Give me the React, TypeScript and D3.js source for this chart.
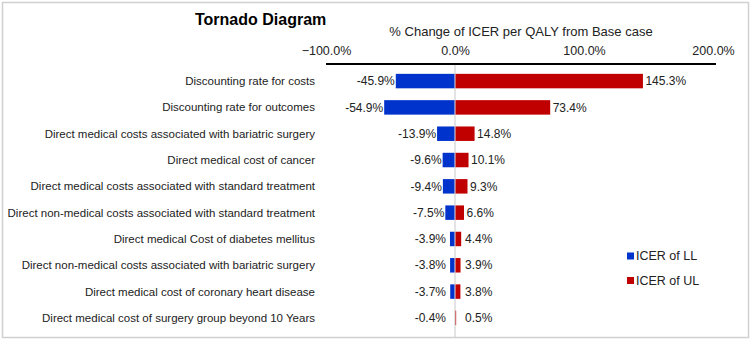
import React, { useEffect, useRef } from 'react';
import * as d3 from 'd3';

const categories = [
  'Discounting rate for costs',
  'Discounting rate for outcomes',
  'Direct medical costs associated with bariatric surgery',
  'Direct medical cost of cancer',
  'Direct medical costs associated with standard treatment',
  'Direct non-medical costs associated with standard treatment',
  'Direct medical Cost of diabetes mellitus',
  'Direct non-medical costs associated with bariatric surgery',
  'Direct medical cost of coronary heart disease',
  'Direct medical cost of surgery group beyond 10 Years',
];
const lowValues = [-45.9, -54.9, -13.9, -9.6, -9.4, -7.5, -3.9, -3.8, -3.7, -0.4];
const highValues = [145.3, 73.4, 14.8, 10.1, 9.3, 6.6, 4.4, 3.9, 3.8, 0.5];
const xTicks = [-100, 0, 100, 200];
const seriesNames = ['ICER of LL', 'ICER of UL'];
const seriesColors = ['#0033CC', '#C00000'];

const FONT = '"Liberation Sans", Arial, sans-serif';

function TornadoChart() {
  const ref = useRef<SVGSVGElement>(null);

  useEffect(() => {
    if (!ref.current) return;
    const svg = d3.select(ref.current);
    svg.selectAll('*').remove();

    // frame
    svg.append('rect')
      .attr('x', 2.5).attr('y', 2.5)
      .attr('width', 746).attr('height', 335)
      .attr('fill', '#fff')
      .attr('stroke', '#d0d0d0')
      .attr('stroke-width', 1.5);

    const x = d3.scaleLinear().domain([-100, 200]).range([326, 713]);
    const y = d3.scaleBand().domain(categories).range([62, 337]).padding(0.45);

    // title
    svg.append('text')
      .attr('x', 195).attr('y', 25)
      .attr('font-family', FONT)
      .attr('font-weight', 'bold')
      .attr('font-size', 16)
      .attr('fill', '#000')
      .text('Tornado Diagram');

    svg.append('text')
      .attr('x', 521).attr('y', 36)
      .attr('text-anchor', 'middle')
      .attr('font-family', FONT)
      .attr('font-size', 13)
      .attr('fill', '#222')
      .text('% Change of ICER per QALY from Base case');

    // zero line
    svg.append('line')
      .attr('x1', x(0)).attr('x2', x(0))
      .attr('y1', 64).attr('y2', 337)
      .attr('stroke', '#c8c8c8')
      .attr('stroke-width', 1);

    // top axis
    const axis = svg.append('g')
      .attr('transform', 'translate(0,64)')
      .call(d3.axisTop(x).tickValues(xTicks).tickSize(0).tickPadding(9)
        .tickFormat((d) => `${d3.format('.1f')(d as number)}%`));
    axis.select('.domain')
      .attr('d', `M${x(-100)},0H${x(200) + 3}`)
      .attr('stroke', '#000')
      .attr('stroke-width', 2);
    axis.selectAll('text')
      .attr('font-family', FONT)
      .attr('font-size', 12.5)
      .attr('fill', '#222');

    // category labels
    svg.append('g').selectAll('text')
      .data(categories)
      .join('text')
      .attr('x', 315)
      .attr('y', (d) => (y(d) as number) + y.bandwidth() / 2)
      .attr('dy', '0.35em')
      .attr('text-anchor', 'end')
      .attr('font-family', FONT)
      .attr('font-size', 11.5)
      .attr('fill', '#222')
      .text((d) => d);

    const rows = categories.map((c, i) => ({ c, lo: lowValues[i], hi: highValues[i] }));

    // low bars
    svg.append('g').selectAll('rect')
      .data(rows)
      .join('rect')
      .attr('x', (d) => x(d.lo))
      .attr('y', (d) => y(d.c) as number)
      .attr('width', (d) => x(0) - x(d.lo) - 0.5)
      .attr('height', y.bandwidth())
      .attr('fill', seriesColors[0]);

    // high bars
    svg.append('g').selectAll('rect')
      .data(rows)
      .join('rect')
      .attr('x', x(0) + 0.5)
      .attr('y', (d) => y(d.c) as number)
      .attr('width', (d) => x(d.hi) - x(0))
      .attr('height', y.bandwidth())
      .attr('fill', seriesColors[1]);

    // value labels
    svg.append('g').selectAll('text')
      .data(rows)
      .join('text')
      .attr('x', (d) => Math.min(x(d.lo) - 1, x(0) - 9))
      .attr('y', (d) => (y(d.c) as number) + y.bandwidth() / 2)
      .attr('dy', '0.35em')
      .attr('text-anchor', 'end')
      .attr('font-family', FONT)
      .attr('font-size', 12)
      .attr('fill', '#222')
      .text((d) => `${d.lo.toFixed(1)}%`);

    svg.append('g').selectAll('text')
      .data(rows)
      .join('text')
      .attr('x', (d) => Math.max(x(d.hi) + 3, x(0) + 10))
      .attr('y', (d) => (y(d.c) as number) + y.bandwidth() / 2)
      .attr('dy', '0.35em')
      .attr('text-anchor', 'start')
      .attr('font-family', FONT)
      .attr('font-size', 12)
      .attr('fill', '#222')
      .text((d) => `${d.hi.toFixed(1)}%`);

    // legend
    const legend = svg.append('g').selectAll('g')
      .data(seriesNames)
      .join('g')
      .attr('transform', (d, i) => `translate(627,${256 + i * 24.5})`);
    legend.append('rect')
      .attr('x', 0).attr('y', -3.5)
      .attr('width', 7).attr('height', 7)
      .attr('fill', (d, i) => seriesColors[i]);
    legend.append('text')
      .attr('x', 9).attr('y', 0)
      .attr('dy', '0.35em')
      .attr('font-family', FONT)
      .attr('font-size', 12.5)
      .attr('fill', '#222')
      .text((d) => d);
  }, []);

  return (
    <svg ref={ref} width={752} height={339}
      style={{ position: 'absolute', left: 0, top: 0, display: 'block' }} />
  );
}

export default function App() {
  return <TornadoChart />;
}
